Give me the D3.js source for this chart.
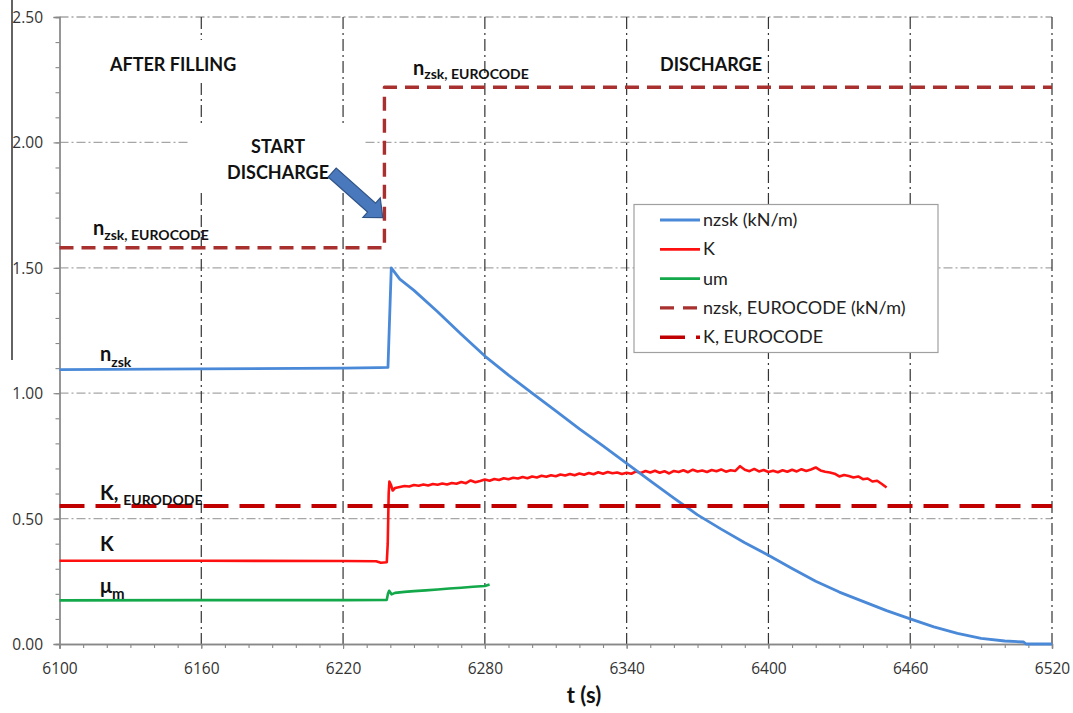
<!DOCTYPE html>
<html>
<head>
<meta charset="utf-8">
<script src="https://cdn.jsdelivr.net/npm/d3@7"></script>
<style>
  html, body { margin: 0; padding: 0; background: #fff; }
  svg { display: block; }
  .tick text { font-family: "Open Sans", sans-serif; font-size: 15.5px; fill: #333; }
  .lbl { font-family: Lato, sans-serif; font-weight: bold; fill: #111; }
  .leg { font-family: Lato, sans-serif; font-size: 18px; fill: #222; }
</style>
</head>
<body>
<svg id="chart" width="1073" height="713"></svg>
<script>
// ---- data -------------------------------------------------------------
const xTicks = [6100, 6160, 6220, 6280, 6340, 6400, 6460, 6520];
const yTicks = [0, 0.5, 1.0, 1.5, 2.0, 2.5];

// nzsk (kN/m) – wall load
const nzskT = [6100, 6160, 6220, 6235, 6239.0, 6240.4, 6244, 6250, 6260, 6270, 6280, 6290,
  6300, 6310, 6320, 6330, 6340, 6350, 6360, 6370, 6380, 6390, 6400, 6410, 6420, 6430, 6440,
  6450, 6460, 6470, 6480, 6490, 6500, 6508, 6509, 6520];
const nzskV = [1.094, 1.097, 1.100, 1.102, 1.103, 1.500, 1.455, 1.410, 1.325, 1.235, 1.148, 1.072,
  1.000, 0.930, 0.858, 0.790, 0.720, 0.650, 0.582, 0.515, 0.458, 0.404, 0.354, 0.301, 0.250, 0.207, 0.170,
  0.133, 0.100, 0.068, 0.042, 0.022, 0.012, 0.008, 0.000, 0.000];

// K – lateral pressure ratio
const kT = [6100, 6160, 6220, 6234, 6236, 6238.5, 6238.9, 6239.3, 6239.6, 6240.2, 6241, 6242,
  6244, 6246, 6248, 6250, 6252, 6254, 6256, 6258, 6260, 6262, 6264, 6266, 6268, 6270, 6272, 6274,
  6276, 6278, 6280, 6282, 6284, 6286, 6288, 6290, 6292, 6294, 6296, 6298, 6300, 6302, 6304, 6306,
  6308, 6310, 6312, 6314, 6316, 6318, 6320, 6322, 6324, 6326, 6328, 6330, 6332, 6334, 6336, 6338,
  6340, 6342, 6344, 6346, 6348, 6350, 6352, 6354, 6356, 6358, 6360, 6362, 6364, 6366, 6368, 6370,
  6372, 6374, 6376, 6378, 6380, 6382, 6384, 6386, 6388, 6390, 6392, 6394, 6396, 6398, 6400, 6402,
  6404, 6406, 6408, 6410, 6412, 6414, 6416, 6418, 6420, 6422, 6424, 6426, 6428, 6430, 6432, 6434,
  6436, 6438, 6440, 6442, 6444, 6446, 6448, 6450];
const kV = [0.332, 0.332, 0.331, 0.330, 0.324, 0.326, 0.40, 0.600, 0.648, 0.636, 0.612, 0.622,
  0.626, 0.630, 0.628, 0.634, 0.631, 0.636, 0.632, 0.638, 0.635, 0.640, 0.636, 0.642, 0.639, 0.646, 0.641, 0.652,
  0.645, 0.650, 0.656, 0.651, 0.658, 0.654, 0.661, 0.657, 0.663, 0.660, 0.666, 0.661, 0.668, 0.664, 0.671, 0.667,
  0.673, 0.669, 0.676, 0.672, 0.678, 0.673, 0.680, 0.675, 0.682, 0.677, 0.685, 0.679, 0.686, 0.681, 0.684, 0.678,
  0.683, 0.679, 0.688, 0.682, 0.690, 0.684, 0.691, 0.683, 0.689, 0.680, 0.690, 0.686, 0.693, 0.685, 0.695, 0.688,
  0.692, 0.686, 0.694, 0.689, 0.696, 0.687, 0.693, 0.690, 0.709, 0.695, 0.689, 0.698, 0.688, 0.694, 0.686, 0.691,
  0.685, 0.693, 0.687, 0.695, 0.688, 0.697, 0.690, 0.696, 0.704, 0.692, 0.687, 0.684, 0.679, 0.668, 0.674, 0.670,
  0.664, 0.668, 0.657, 0.660, 0.648, 0.651, 0.638, 0.624];

// um – wall friction coefficient
const umT = [6100, 6160, 6220, 6238.5, 6239.0, 6239.5, 6240.5, 6242, 6246, 6250, 6255, 6260, 6265, 6270, 6275, 6280, 6282];
const umV = [0.174, 0.175, 0.175, 0.176, 0.200, 0.212, 0.198, 0.204, 0.208, 0.211, 0.214, 0.217, 0.221, 0.224, 0.228, 0.231, 0.237];

// Eurocode reference values
const nzskEcT = [6100, 6237.5, 6237.5, 6520];
const nzskEcV = [1.58, 1.58, 2.22, 2.22];
const kEcT = [6100, 6520];
const kEcV = [0.55, 0.55];

const legendLabels = ["nzsk (kN/m)", "K", "um", "nzsk, EUROCODE (kN/m)", "K, EUROCODE"];

// ---- layout -----------------------------------------------------------
const svg = d3.select("#chart");
const x = d3.scaleLinear().domain([6100, 6520]).range([59.5, 1052]);
const y = d3.scaleLinear().domain([0, 2.5]).range([644, 17]);

const zip = (t, v) => t.map((d, i) => [d, v[i]]);
const line = d3.line().x(d => x(d[0])).y(d => y(d[1]));

// stray scan mark at the left edge
svg.append("line").attr("x1", 12).attr("x2", 12).attr("y1", 0).attr("y2", 360)
  .attr("stroke", "#222").attr("stroke-width", 1.4);

// gridlines
const grid = svg.append("g");
grid.selectAll(".hg").data(yTicks.filter(d => d > 0)).join("line")
  .attr("x1", x(6100)).attr("x2", x(6520))
  .attr("y1", d => y(d)).attr("y2", d => y(d))
  .attr("stroke", "#a6a6a6").attr("stroke-width", 1.3)
  .attr("stroke-dasharray", "9,3,2,3");
grid.selectAll(".vg").data(xTicks.filter(d => d > 6100)).join("line")
  .attr("x1", d => x(d)).attr("x2", d => x(d))
  .attr("y1", y(2.5)).attr("y2", y(0))
  .attr("stroke", "#333").attr("stroke-width", 1.2)
  .attr("stroke-dasharray", "12,4,2,4");

// text boxes with white fill hide the grid behind them
svg.append("rect").attr("x", 100).attr("y", 40).attr("width", 142).attr("height", 42).attr("fill", "#fff");
svg.append("rect").attr("x", 190).attr("y", 127).attr("width", 173).attr("height", 66).attr("fill", "#fff");

// axes
const minorX = d3.range(6100, 6521, 10);
const minorY = d3.range(0, 2.501, 0.1);
const xMinor = svg.append("g").attr("transform", `translate(0,${y(0)})`)
  .call(d3.axisBottom(x).tickValues(minorX).tickSize(4).tickFormat(""));
const xAxis = svg.append("g").attr("transform", `translate(0,${y(0)})`)
  .call(d3.axisBottom(x).tickValues(xTicks).tickSize(5).tickPadding(14).tickFormat(d3.format("d")));
const yMinor = svg.append("g").attr("transform", `translate(${x(6100)},0)`)
  .call(d3.axisLeft(y).tickValues(minorY).tickSize(4).tickFormat(""));
const yAxis = svg.append("g").attr("transform", `translate(${x(6100)},0)`)
  .call(d3.axisLeft(y).tickValues(yTicks).tickSize(6).tickPadding(10.5).tickFormat(d3.format(".2f")));
[xMinor, xAxis, yMinor, yAxis].forEach(g => {
  g.selectAll("path.domain").attr("stroke", "#888").attr("stroke-width", 1.3);
  g.selectAll(".tick line").attr("stroke", "#888").attr("stroke-width", 1.1);
});
xAxis.selectAll(".tick text").attr("dy", 0);
xAxis.selectAll(".tick text").attr("y", 29.5);
yAxis.selectAll(".tick text").attr("dy", "0.36em");

// series
const series = [
  { t: nzskT, v: nzskV, color: "#4a89d8", w: 2.8, dash: null },
  { t: kT, v: kV, color: "#ff1010", w: 2.6, dash: null },
  { t: umT, v: umV, color: "#13a84a", w: 2.6, dash: null },
  { t: nzskEcT, v: nzskEcV, color: "#a8312f", w: 3.4, dash: "14,8" },
  { t: kEcT, v: kEcV, color: "#c00000", w: 4, dash: "25,11" }
];
const plot = svg.append("g");
// draw order: measured curves (green, red, blue), then Eurocode references
[2, 1, 0, 3, 4].forEach(i => {
  const s = series[i];
  plot.append("path").datum(zip(s.t, s.v)).attr("d", line)
    .attr("fill", "none").attr("stroke", s.color).attr("stroke-width", s.w)
    .attr("stroke-linejoin", "round")
    .attr("stroke-dasharray", s.dash);
});

// annotations
const txt = (xp, yp, size, str) => svg.append("text").attr("class", "lbl")
  .attr("x", xp).attr("y", yp).style("font-size", size + "px").text(str);
txt(110, 71, 18, "AFTER FILLING");
txt(660, 71, 18, "DISCHARGE");
txt(278, 153, 18, "START").attr("text-anchor", "middle");
txt(278, 179, 18, "DISCHARGE").attr("text-anchor", "middle");

function subLabel(xp, yp, main, sub, dy, subSize) {
  const t = svg.append("text").attr("class", "lbl").attr("x", xp).attr("y", yp).style("font-size", "20px");
  t.append("tspan").text(main);
  t.append("tspan").attr("dy", dy).style("font-size", (subSize || 14) + "px").text(sub);
  return t;
}
subLabel(93, 235, "n", "zsk, EUROCODE", 5);
subLabel(413, 75, "n", "zsk, EUROCODE", 4);
subLabel(100, 361, "n", "zsk", 6);
subLabel(100, 500, "K, ", "EURODODE", 5);
txt(100, 551, 20, "K");
subLabel(100, 593, "\u03bc", "m", 6, 15);

// block arrow pointing at the start of discharge
(function () {
  const tail = [x(6215.4), y(1.88)], tip = [x(6236.8), y(1.70)];
  const dx = tip[0] - tail[0], dy = tip[1] - tail[1], L = Math.hypot(dx, dy);
  const u = [dx / L, dy / L], n = [-u[1], u[0]];
  const hl = 15, sw = 6, hw = 13;
  const b = [tip[0] - u[0] * hl, tip[1] - u[1] * hl];
  const p = (c, k) => [c[0] + n[0] * k, c[1] + n[1] * k];
  const pts = [p(tail, sw), p(b, sw), p(b, hw), tip, p(b, -hw), p(b, -sw), p(tail, -sw)];
  svg.append("path").attr("d", "M" + pts.map(q => q.join(",")).join("L") + "Z")
    .attr("fill", "#4a78bd").attr("stroke", "#2f5386").attr("stroke-width", 1.2);
})();

// legend
const lg = svg.append("g");
lg.append("rect").attr("x", 634).attr("y", 204.5).attr("width", 304).attr("height", 148)
  .attr("fill", "#fff").attr("stroke", "#a0a0a0").attr("stroke-width", 1.2);
const legDash = [null, null, null, "14,9", "25,11,4,40"];
legendLabels.forEach((lab, i) => {
  const s = series[i];
  const yy = 220 + i * 29.3;
  lg.append("line").attr("x1", 660).attr("x2", 700).attr("y1", yy).attr("y2", yy)
    .attr("stroke", s.color).attr("stroke-width", i >= 3 ? 3.4 : 2.8)
    .attr("stroke-dasharray", legDash[i]);
  lg.append("text").attr("class", "leg").attr("x", 703).attr("y", yy + 6).text(lab);
});

// axis title
svg.append("text").attr("class", "lbl").attr("x", 584).attr("y", 703)
  .attr("text-anchor", "middle").style("font-size", "22px").text("t (s)");
</script>
</body>
</html>
